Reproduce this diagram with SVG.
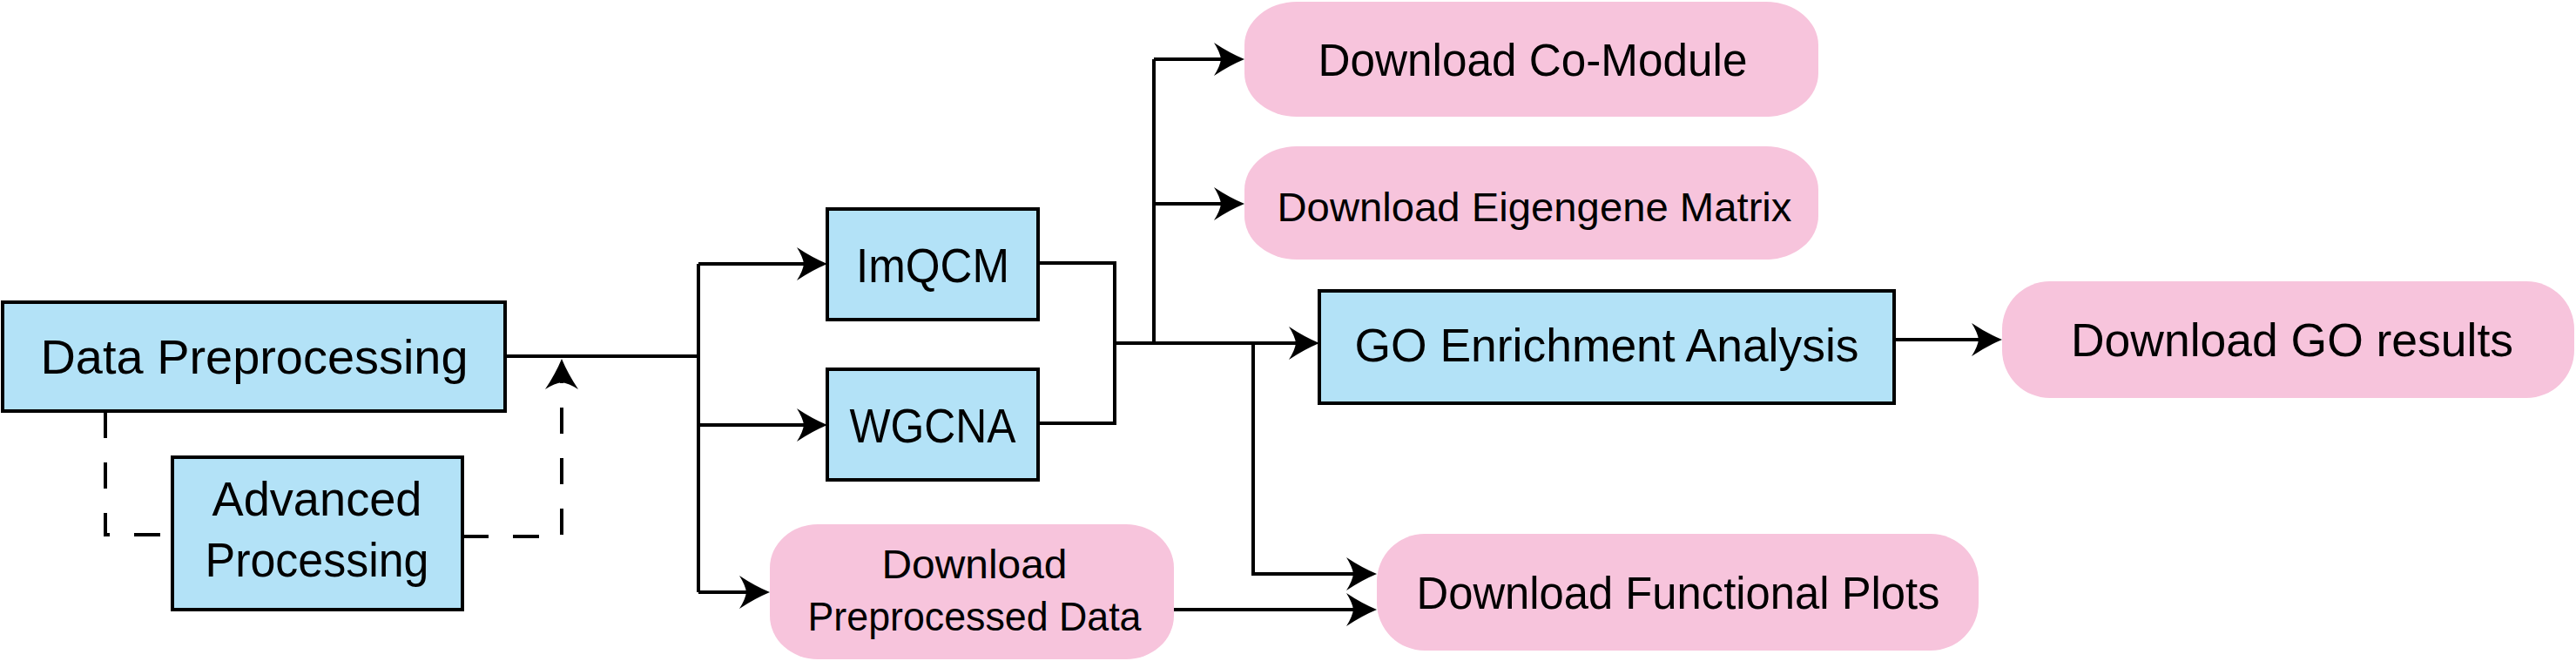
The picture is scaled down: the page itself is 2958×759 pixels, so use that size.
<svg xmlns="http://www.w3.org/2000/svg" width="2958" height="759" viewBox="0 0 2958 759">
<style>
.blue{fill:#b3e2f7;stroke:#000;stroke-width:4}
.pink{fill:#f7c4dc;stroke:none}
.t{font-family:"Liberation Sans",Arial,sans-serif;fill:#000;text-anchor:middle}
.ln{fill:none;stroke:#000;stroke-width:4}
.dash{fill:none;stroke:#000;stroke-width:4;stroke-dasharray:30 28}
</style>
<defs>
<marker id="arr" markerUnits="userSpaceOnUse" refX="-20" refY="0" markerWidth="40" markerHeight="44" orient="auto" overflow="visible">
<path d="M0,0 Q-17,-7 -35,-19 Q-28,-8 -27,0 Q-28,8 -35,19 Q-17,7 0,0 Z" fill="#000"/>
</marker>
</defs>
<g id="connectors">
<path class="ln" d="M580,409 H802"/>
<path class="ln" d="M802,303 V680"/>
<path class="ln" d="M802,303 H930" marker-end="url(#arr)"/>
<path class="ln" d="M802,488 H930" marker-end="url(#arr)"/>
<path class="ln" d="M802,680 H864" marker-end="url(#arr)"/>
<path class="ln" d="M1192,302 H1280 V486 H1192"/>
<path class="ln" d="M1280,394 H1495" marker-end="url(#arr)"/>
<path class="ln" d="M1325,394 V68"/>
<path class="ln" d="M1325,68 H1409" marker-end="url(#arr)"/>
<path class="ln" d="M1325,234 H1409" marker-end="url(#arr)"/>
<path class="ln" d="M1439,394 V659 H1561" marker-end="url(#arr)"/>
<path class="ln" d="M1348,700 H1561" marker-end="url(#arr)"/>
<path class="ln" d="M2175,390 H2279" marker-end="url(#arr)"/>
<path class="dash" d="M121,473 V614 H198"/>
<path class="dash" d="M531,616 H645 V432" marker-end="url(#arr)"/>
</g>
<g id="data-preprocessing">
<rect class="blue" x="3" y="347" width="577" height="125"/>
<text class="t" x="292" y="429" font-size="56" textLength="491" lengthAdjust="spacingAndGlyphs">Data Preprocessing</text>
</g>
<g id="advanced-processing">
<rect class="blue" x="198" y="525" width="333" height="175"/>
<text class="t" x="364" y="592" font-size="55" textLength="241" lengthAdjust="spacingAndGlyphs">Advanced</text>
<text class="t" x="364" y="662" font-size="55" textLength="257" lengthAdjust="spacingAndGlyphs">Processing</text>
</g>
<g id="imqcm">
<rect class="blue" x="950" y="240" width="242" height="127"/>
<text class="t" x="1071" y="324" font-size="56" textLength="176" lengthAdjust="spacingAndGlyphs">ImQCM</text>
</g>
<g id="wgcna">
<rect class="blue" x="950" y="424" width="242" height="127"/>
<text class="t" x="1071" y="508" font-size="56" textLength="191" lengthAdjust="spacingAndGlyphs">WGCNA</text>
</g>
<g id="go-enrichment">
<rect class="blue" x="1515" y="334" width="660" height="129"/>
<text class="t" x="1845" y="415" font-size="54" textLength="579" lengthAdjust="spacingAndGlyphs">GO Enrichment Analysis</text>
</g>
<g id="download-co-module">
<rect class="pink" x="1429" y="2" width="659" height="132" rx="60" ry="50"/>
<text class="t" x="1760" y="87" font-size="51" textLength="493" lengthAdjust="spacingAndGlyphs">Download Co-Module</text>
</g>
<g id="download-eigengene">
<rect class="pink" x="1429" y="168" width="659" height="130" rx="60" ry="50"/>
<text class="t" x="1762" y="254" font-size="47" textLength="591" lengthAdjust="spacingAndGlyphs">Download Eigengene Matrix</text>
</g>
<g id="download-go-results">
<rect class="pink" x="2299" y="323" width="657" height="134" rx="55" ry="55"/>
<text class="t" x="2632" y="409" font-size="54" textLength="508" lengthAdjust="spacingAndGlyphs">Download GO results</text>
</g>
<g id="download-preprocessed">
<rect class="pink" x="884" y="602" width="464" height="155" rx="55" ry="50"/>
<text class="t" x="1119" y="664" font-size="46" textLength="213" lengthAdjust="spacingAndGlyphs">Download</text>
<text class="t" x="1119" y="724" font-size="46" textLength="383" lengthAdjust="spacingAndGlyphs">Preprocessed Data</text>
</g>
<g id="download-functional-plots">
<rect class="pink" x="1581" y="613" width="691" height="134" rx="55" ry="55"/>
<text class="t" x="1927" y="699" font-size="51" textLength="601" lengthAdjust="spacingAndGlyphs">Download Functional Plots</text>
</g>
</svg>
